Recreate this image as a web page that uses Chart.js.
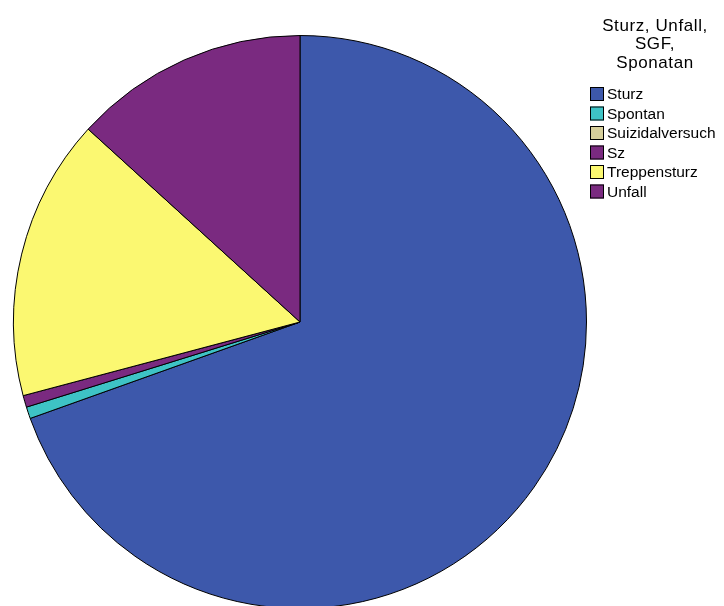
<!DOCTYPE html>
<html>
<head>
<meta charset="utf-8">
<script src="https://cdn.jsdelivr.net/npm/chart.js@4.4.0/dist/chart.umd.min.js"></script>
<style>
  html, body { margin: 0; padding: 0; background: #fff; overflow: hidden; }
  #wrap { width: 724px; height: 606px; overflow: hidden; position: relative; }
</style>
</head>
<body>
<div id="wrap">
  <canvas id="pieChart" width="724" height="620"></canvas>
</div>
<script>
// Daten
const kategorien = ['Sturz', 'Spontan', 'Suizidalversuch', 'Sz', 'Treppensturz', 'Unfall'];
const anzahl = [105, 1, 0, 1, 24, 20];
const farben = ['#3d58ab', '#3ec3c5', '#d6cf9b', '#7a2a80', '#fbf871', '#7a2a80'];
const titelZeilen = ['Sturz, Unfall,', 'SGF,', 'Sponatan'];

// Legende rechts oben, von Hand gezeichnet
const legendePlugin = {
    id: 'legendeRechts',
    afterDraw: (chart) => {
        const ctx = chart.ctx;
        ctx.save();
        ctx.fillStyle = '#000';
        ctx.textAlign = 'center';
        ctx.textBaseline = 'middle';
        ctx.font = '17px "Liberation Sans", Arial, sans-serif';
        ctx.letterSpacing = '0.6px';
        titelZeilen.forEach((z, i) => {
            ctx.fillText(z, 655, 26 + i * 18.5);
        });

        ctx.letterSpacing = '0px';
        ctx.textAlign = 'left';
        ctx.font = '15.5px "Liberation Sans", Arial, sans-serif';
        kategorien.forEach((k, i) => {
            const y = 94 + i * 19.5;
            ctx.fillStyle = farben[i];
            ctx.fillRect(590, y - 7, 14, 14);
            ctx.strokeStyle = '#000';
            ctx.lineWidth = 1;
            ctx.strokeRect(590.5, y - 6.5, 13, 13);
            ctx.fillStyle = '#000';
            ctx.fillText(k, 607, y + 1);
        });
        ctx.restore();
    }
};

const ctx = document.getElementById('pieChart').getContext('2d');
new Chart(ctx, {
    type: 'pie',
    data: {
        labels: kategorien,
        datasets: [{
            data: anzahl,
            backgroundColor: farben,
            borderColor: '#000',
            borderWidth: 1
        }]
    },
    options: {
        responsive: false,
        animation: false,
        layout: { padding: { left: 13, top: 34, right: 137, bottom: 10 } },
        plugins: {
            legend: { display: false },
            tooltip: { enabled: false }
        }
    },
    plugins: [legendePlugin]
});
</script>
</body>
</html>
